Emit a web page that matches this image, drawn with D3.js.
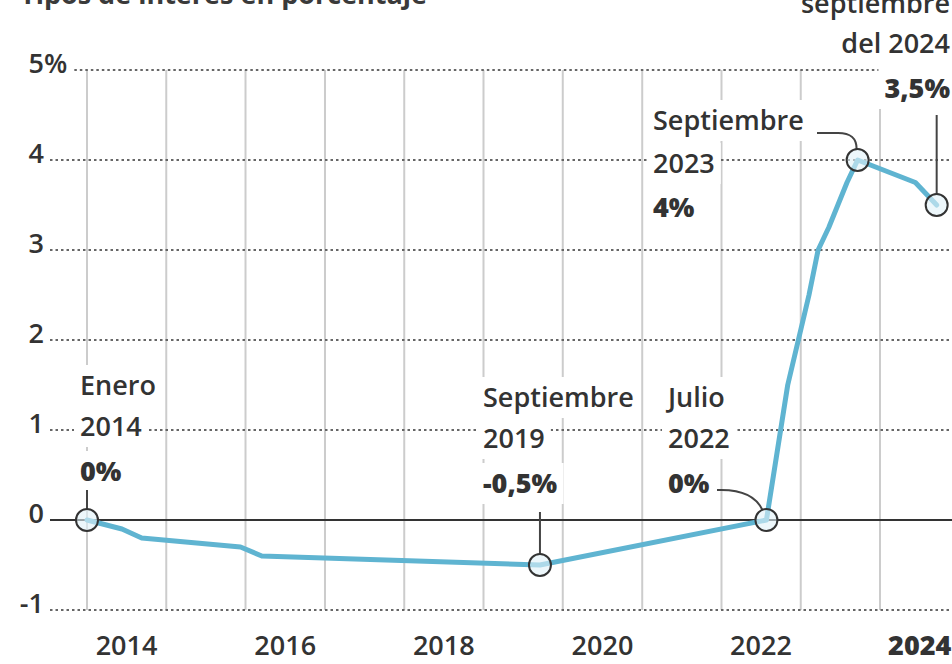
<!DOCTYPE html>
<html><head><meta charset="utf-8">
<script src="https://cdn.jsdelivr.net/npm/d3@7"></script>
<style>
html,body{margin:0;padding:0;background:#fff;}
svg{display:block;font-family:"Open Sans",sans-serif;}
</style></head>
<body>
<svg id="c" width="952" height="664"></svg>
<script>
// Data: ECB deposit rate change points (percent)
const dates = ["2014-01-01","2014-06-11","2014-09-10","2015-12-09","2016-03-16","2019-09-18",
  "2022-07-27","2022-09-14","2022-11-02","2022-12-21","2023-02-08","2023-03-22","2023-05-10",
  "2023-06-21","2023-08-02","2023-09-20","2024-06-12","2024-09-18"];
const rates = [0,-0.1,-0.2,-0.3,-0.4,-0.5,0,0.75,1.5,2.0,2.5,3.0,3.25,3.5,3.75,4.0,3.75,3.5];
const yTicks = [-1,0,1,2,3,4,5];
const yTickLabels = ["-1","0","1","2","3","4","5"];
const xTickYears = [2014,2016,2018,2020,2022,2024];
const gridYears = [2014,2015,2016,2017,2018,2019,2020,2021,2022,2023,2024,2025];
const highlightDates = ["2014-01-01","2019-09-18","2022-07-27","2023-09-20","2024-09-18"];
const highlightRates = [0,-0.5,0,4.0,3.5];
const title = "Tipos de interés en porcentaje";

const parse = d3.timeParse("%Y-%m-%d");
const data = dates.map((d,i)=>({date:parse(d), v:rates[i]}));

const svg = d3.select("#c");
const x = d3.scaleTime().domain([new Date(2014,0,1), new Date(2024,0,1)]).range([87,880]);
const y = d3.scaleLinear().domain([-1,5]).range([610,70]);
const txt = "#333";
const FW = 600;
const FS = 27;

// title (cropped at top)
svg.append("text").attr("x",20).attr("y",4).attr("font-size",27).attr("font-weight",700)
  .attr("fill","#3a3a3a").text(title);

// vertical gridlines
svg.append("g").selectAll("line").data(gridYears).join("line")
  .attr("x1",d=>x(new Date(d,0,1))).attr("x2",d=>x(new Date(d,0,1)))
  .attr("y1",y(5)).attr("y2",y(-1))
  .attr("stroke","#cccccc").attr("stroke-width",2);

// y labels + horizontal grid
const gy = svg.append("g");
yTicks.forEach((t,i)=>{
  const yy = y(t);
  gy.append("text").attr("x",44).attr("y",yy+3).attr("text-anchor","end")
    .attr("font-size",FS).attr("font-weight",FW).attr("fill",txt).text(yTickLabels[i]);
  let start = 50;
  if (t===5){
    const p = gy.append("text").attr("x",44).attr("y",yy+3).attr("font-size",FS)
      .attr("font-weight",FW).attr("fill",txt).text("%");
    start = 44 + p.node().getComputedTextLength() + 7;
  }
  if (t===0){
    gy.append("line").attr("x1",start).attr("x2",952).attr("y1",yy).attr("y2",yy)
      .attr("stroke","#333").attr("stroke-width",2);
  } else {
    gy.append("line").attr("x1",start).attr("x2",952).attr("y1",yy).attr("y2",yy)
      .attr("stroke","#666").attr("stroke-width",2).attr("stroke-dasharray","2.5,3");
  }
});

// background layer for annotation text
const bg = svg.append("g");

// x labels
svg.append("g").selectAll("text").data(xTickYears).join("text")
  .attr("x",d=>x(new Date(d,6,2))).attr("y",655).attr("text-anchor","middle")
  .attr("font-size",FS).attr("fill",txt)
  .attr("font-weight",d=>d===2024?800:FW).text(d=>d);

// line
svg.append("path").datum(data)
  .attr("d",d3.line().x(d=>x(d.date)).y(d=>y(d.v)))
  .attr("fill","none").attr("stroke","#5fb4d1").attr("stroke-width",5)
  .attr("stroke-linejoin","round").attr("stroke-linecap","round");

// leaders
const lead = svg.append("g").attr("fill","none").attr("stroke","#444").attr("stroke-width",2);
const P = highlightDates.map((d,i)=>[x(parse(d)), y(highlightRates[i])]);
lead.append("line").attr("x1",P[0][0]).attr("x2",P[0][0]).attr("y1",490).attr("y2",P[0][1]-11);
lead.append("line").attr("x1",P[1][0]).attr("x2",P[1][0]).attr("y1",512).attr("y2",P[1][1]-11);
lead.append("path").attr("d",`M717,490 C742,489 756,496 ${P[2][0]-4},${P[2][1]-10}`);
lead.append("path").attr("d",`M817,133 L838,133 C851,133 ${P[3][0]-1},138 ${P[3][0]-1},${P[3][1]-11}`);
lead.append("line").attr("x1",P[4][0]).attr("x2",P[4][0]).attr("y1",115).attr("y2",P[4][1]-11);

// circles
svg.append("g").selectAll("circle").data(P).join("circle")
  .attr("cx",d=>d[0]).attr("cy",d=>d[1]).attr("r",11)
  .attr("fill","rgba(225,242,248,0.6)").attr("stroke","#333").attr("stroke-width",2);

// annotations
function ann(xp, ys, lines, anchor){
  const g = svg.append("g");
  lines.forEach((l,i)=>{
    const t = g.append("text").attr("x",xp).attr("y",ys[i]).attr("font-size",FS).attr("fill",txt)
      .attr("text-anchor",anchor||"start").attr("font-weight",i===2?800:FW).text(l);
    const b = t.node().getBBox();
    bg.append("rect").attr("x",b.x-6).attr("y",ys[i]-30).attr("width",b.width+12)
      .attr("height",41).attr("fill","#fff");
  });
}
ann(80,[395,436,481],["Enero","2014","0%"]);
ann(483,[407,448,493],["Septiembre","2019","-0,5%"]);
ann(668,[407,448,493],["Julio","2022","0%"]);
ann(653,[130,173,217],["Septiembre","2023","4%"]);
ann(950,[13,53,98],["septiembre","del 2024","3,5%"],"end");
</script>
</body></html>
